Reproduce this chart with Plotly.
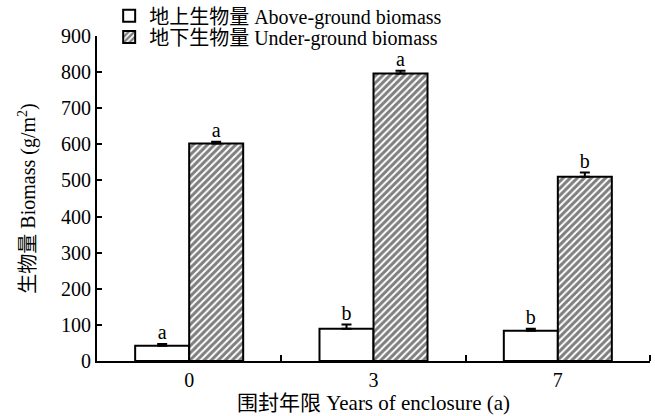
import numpy as np
import plotly.graph_objects as go

categories = ["0", "3", "7"]
above = [42, 89, 84]
above_err = [5, 12, 5]
above_letters = ["a", "b", "b"]
below = [602, 796, 510]
below_err = [5, 8, 12]
below_letters = ["a", "a", "b"]

FONT = "Liberation Serif, Times New Roman, Noto Sans CJK SC, serif"
xpos = np.arange(len(categories))
bw = 0.293

fig = go.Figure()
fig.add_trace(go.Bar(
    x=xpos, y=above, width=bw, offset=-bw,
    name="地上生物量 Above-ground biomass", legend="legend",
    marker=dict(color="white", line=dict(color="black", width=2)),
    error_y=dict(type="data", array=above_err, arrayminus=[0]*3, symmetric=False,
                 color="black", thickness=2, width=5),
))
fig.add_trace(go.Bar(
    x=xpos, y=below, width=bw, offset=0,
    name="地下生物量 Under-ground biomass", legend="legend2",
    marker=dict(color="white", line=dict(color="black", width=2),
                pattern=dict(shape="/", fgcolor="black", bgcolor="white", size=5, solidity=0.6)),
    error_y=dict(type="data", array=below_err, arrayminus=[0]*3, symmetric=False,
                 color="black", thickness=2, width=5),
))
fig.add_trace(go.Scatter(
    x=xpos - bw / 2, y=np.array(above) + np.array(above_err),
    mode="text", text=above_letters, textposition="top center",
    textfont=dict(family=FONT, size=20, color="black"), showlegend=False, hoverinfo="skip"))
fig.add_trace(go.Scatter(
    x=xpos + bw / 2, y=np.array(below) + np.array(below_err),
    mode="text", text=below_letters, textposition="top center",
    textfont=dict(family=FONT, size=20, color="black"), showlegend=False, hoverinfo="skip"))

leg_common = dict(xanchor="left", yanchor="middle", bgcolor="rgba(0,0,0,0)",
                  font=dict(family=FONT, size=20), itemwidth=30)
fig.update_layout(
    width=655, height=416,
    margin=dict(l=97, r=5, t=36, b=55, autoexpand=False),
    paper_bgcolor="white", plot_bgcolor="white",
    font=dict(family=FONT, size=20, color="black"),
    barmode="overlay",
    legend=dict(x=0.022, y=1.062, **leg_common),
    legend2=dict(x=0.022, y=0.997, **leg_common),
    xaxis=dict(range=[-0.5, 2.5], tickvals=list(xpos), ticktext=categories, ticks="",
               showline=True, linecolor="black", linewidth=2, showgrid=False, zeroline=False,
               minor=dict(tickvals=[0.5, 1.5, 2.5], ticks="inside", ticklen=6, tickwidth=2, tickcolor="black"),
               title=dict(text="围封年限 Years of enclosure (a)", standoff=2,
                          font=dict(family=FONT, size=21)),
               tickfont=dict(family=FONT, size=20)),
    yaxis=dict(range=[0, 900], dtick=100, ticks="inside", ticklen=5, tickwidth=2, tickcolor="black",
               showline=True, linecolor="black", linewidth=2, showgrid=False, zeroline=False,
               title=dict(text="生物量 Biomass (g/m<sup>2</sup>)", standoff=20,
                          font=dict(family=FONT, size=20)),
               tickfont=dict(family=FONT, size=20)),
)
fig.write_html("out.html")
